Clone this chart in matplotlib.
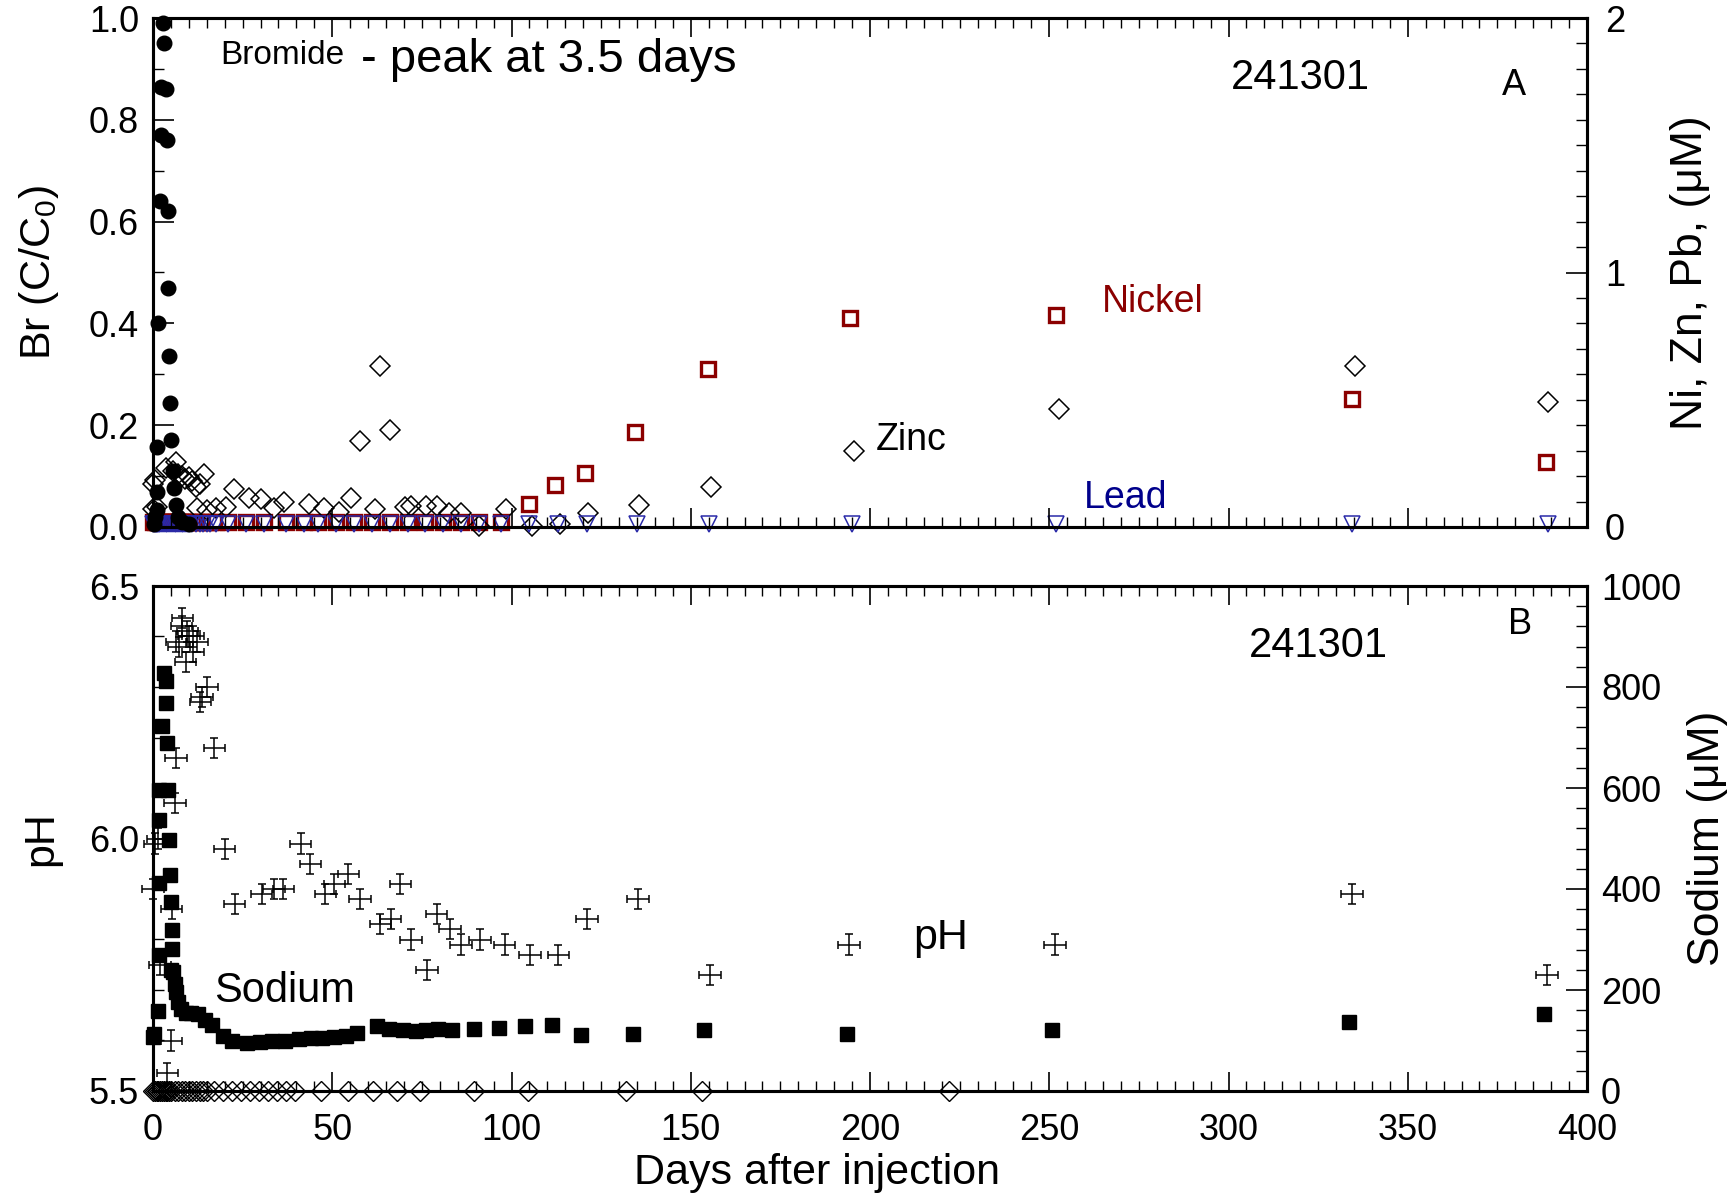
import matplotlib
matplotlib.use("Agg")
import matplotlib.pyplot as plt
from matplotlib.ticker import MultipleLocator, FormatStrFormatter

plt.rcParams['font.family'] = ['Liberation Sans', 'DejaVu Sans']
plt.rcParams['mathtext.fontset'] = 'custom'
plt.rcParams['mathtext.rm'] = 'Liberation Sans'

# ---------------- panel A : bromide (C/C0, left axis) ----------------
br_days = [2.9, 3.0, 2.1, 3.6, 2.1, 3.8, 2.0, 4.3, 4.3, 1.5, 4.5, 4.8, 1.2, 5.0,
           5.5, 1.1, 5.8, 6.4, 1.0, 0.5, 7.0, 8.0, 0.2, 10.0]
br_conc = [0.99, 0.95, 0.865, 0.86, 0.77, 0.76, 0.64, 0.62, 0.47, 0.40, 0.336, 0.243,
           0.158, 0.17, 0.111, 0.069, 0.076, 0.043, 0.033, 0.02, 0.02, 0.01, 0.005, 0.005]

# metals (uM, right axis)
ni_days = [0, 0.5, 1, 1.5, 2, 2.5, 3, 3.5, 4, 4.5, 5, 5.5, 6, 6.5, 7, 7.5, 8, 8.5, 9, 9.5,
           10, 11, 12, 13, 14, 15, 16, 17.5, 21, 26, 31, 37, 42, 46, 51, 56, 61, 66, 71,
           76, 81, 86, 91, 97, 104.8, 112.2, 120.6, 134.5, 154.9, 194.4, 251.9, 334.5, 388.6]
ni_conc = [0.02, 0.02, 0.02, 0.02, 0.02, 0.02, 0.02, 0.02, 0.02, 0.02, 0.02, 0.02, 0.02,
           0.02, 0.02, 0.02, 0.02, 0.02, 0.02, 0.02, 0.02, 0.02, 0.02, 0.02, 0.02, 0.02,
           0.02, 0.02, 0.02, 0.02, 0.02, 0.02, 0.02, 0.02, 0.02, 0.02, 0.02, 0.02, 0.02,
           0.02, 0.02, 0.02, 0.02, 0.02, 0.09, 0.165, 0.212, 0.372, 0.62, 0.82, 0.833,
           0.503, 0.256]

zn_days = [0, 0.1, 1.2, 0.5, 3.5, 6.3, 5.5, 7, 8, 9, 10, 11, 11.9, 12.4, 13, 14.2, 15.2,
           17.5, 20.3, 22.6, 26.8, 30.0, 33.8, 36.5, 43.5, 47.7, 52, 55.3, 57.8, 61.8, 63.4,
           66.2, 70.2, 72.0, 76.2, 79.3, 82.6, 85.9, 91, 98.6, 105.6, 113.5, 121.4, 135.6,
           155.6, 195.5, 252.6, 335.4, 389.2]
zn_conc = [0.07, 0.17, 0.08, 0.185, 0.23, 0.257, 0.22, 0.21, 0.2, 0.19, 0.198, 0.18,
           0.158, 0.073, 0.17, 0.207, 0.067, 0.073, 0.08, 0.149, 0.113, 0.11, 0.073, 0.1,
           0.09, 0.073, 0.06, 0.113, 0.338, 0.07, 0.633, 0.382, 0.077, 0.083, 0.083, 0.083,
           0.054, 0.054, 0.004, 0.07, 0.004, 0.012, 0.054, 0.085, 0.158, 0.30, 0.464,
           0.633, 0.49]

pb_days = [0, 0.25, 0.5, 0.75, 1, 1.25, 1.5, 1.75, 2, 2.5, 3, 3.5, 4, 4.5, 5, 5.5, 6, 6.5,
           7, 7.5, 8, 8.5, 9, 9.5, 10, 11, 12, 13, 14, 15, 16, 17.5, 21, 26, 31, 37, 42,
           46, 51, 56, 61, 66, 71, 76, 81, 86, 91, 97, 105, 113, 121, 135, 155, 195, 252,
           334.5, 389]
pb_conc = [0.01, 0.01, 0.01, 0.01, 0.01, 0.01, 0.01, 0.01, 0.01, 0.01, 0.01, 0.01, 0.01,
           0.01, 0.01, 0.01, 0.01, 0.01, 0.01, 0.01, 0.01, 0.01, 0.01, 0.01, 0.01, 0.01,
           0.01, 0.01, 0.01, 0.01, 0.01, 0.01, 0.01, 0.01, 0.01, 0.01, 0.01, 0.01, 0.01,
           0.01, 0.01, 0.01, 0.01, 0.01, 0.01, 0.01, 0.01, 0.01, 0.01, 0.01, 0.01, 0.01,
           0.01, 0.01, 0.01, 0.01, 0.01]

# ---------------- panel B : pH (left) and sodium (right) ----------------
ph_days = [8.2, 8.0, 9.6, 11.2, 12.3, 10.0, 7.2, 11.2, 9.1, 6.5, 15.0, 13.6, 13.2, 17.1,
           6.4, 6.1, 1.3, 0.5, 20.0, 41.2, 43.9, 54.5, 50.6, 69.0, 36.4, 33.7, 30.3, 48.1,
           57.8, 22.8, 66.3, 63.4, 79.1, 82.9, 72.0, 85.9, 91.2, 98.1, 105.1, 113.1, 121.1,
           135.3, 76.5, 155.4, 0.0, 5.2, 1.9, 5.1, 4.0, 194.1, 251.6, 334.5, 388.9]
ph_vals = [6.437, 6.42, 6.41, 6.40, 6.39, 6.40, 6.38, 6.37, 6.35, 6.39, 6.30, 6.28, 6.27,
           6.18, 6.16, 6.07, 6.00, 5.99, 5.98, 5.99, 5.95, 5.93, 5.91, 5.91, 5.90, 5.90,
           5.89, 5.89, 5.88, 5.87, 5.84, 5.83, 5.85, 5.82, 5.80, 5.79, 5.80, 5.79, 5.77,
           5.77, 5.84, 5.88, 5.74, 5.73, 5.90, 5.86, 5.75, 5.60, 5.535, 5.79, 5.79, 5.89,
           5.73]
ph_xerr = 3.0
ph_yerr = 0.02

na_days = [0, 0.3, 1.4, 1.6, 1.6, 1.8, 1.6, 2.5, 3.0, 3.5, 3.7, 4.0, 4.3, 4.5, 4.8, 5.0,
           5.4, 5.4, 5.7, 5.1, 6.1, 6.5, 7.0, 7.9, 9.3, 10.7, 12.6, 14.5, 16.4, 19.6, 22.0,
           26.2, 29.9, 33.2, 36.9, 40.7, 44.0, 47.2, 50.5, 53.7, 57.0, 62.6, 65.9, 69.6,
           73.4, 76.2, 79.4, 83.5, 89.6, 96.4, 103.9, 111.3, 119.3, 133.8, 153.6, 193.5,
           250.7, 333.5, 388.0]
na_conc = [106, 113, 159, 269, 411, 537, 596, 723, 827, 811, 768, 690, 596, 498, 428, 375,
           319, 281, 236, 240, 212, 197, 176, 162, 155, 154, 152, 141, 130, 109, 99, 95, 97,
           99, 100, 102, 104, 104, 106, 109, 114, 128, 123, 120, 118, 120, 122, 121, 122,
           124, 128, 131, 110, 112, 120, 112, 120, 136, 152]

base_days = [0, 0.5, 1, 1.5, 2, 2.5, 3, 3.5, 4, 4.5, 5, 6, 7, 8, 9, 10, 11, 12, 13, 14, 15,
             17, 19.5, 22, 24.5, 27, 29.5, 32, 34.5, 37, 39.5, 47, 54.5, 61.5, 68, 74.5,
             89.5, 104.5, 132, 153, 222]
base_vals = [0, 0, 0, 0, 0, 0, 0, 0, 0, 0, 0, 0, 0, 0, 0, 0, 0, 0, 0, 0, 0, 0, 0, 0, 0, 0,
             0, 0, 0, 0, 0, 0, 0, 0, 0, 0, 0, 0, 0, 0, 0]

ni_color = '#8b0000'
pb_color = '#2a2aa8'

W, H = 1735, 1195
fig = plt.figure(figsize=(W / 100, H / 100), dpi=100)

x0, x1 = 153, 1587
TICK_FS = 26
LABEL_FS = 31


def box(top, bottom):
    return [x0 / W, 1 - bottom / H, (x1 - x0) / W, (bottom - top) / H]


def style_x(ax, labels):
    ax.set_xlim(0, 400)
    ax.xaxis.set_major_locator(MultipleLocator(50))
    ax.xaxis.set_minor_locator(MultipleLocator(5))
    ax.tick_params(axis='x', which='both', direction='in', top=True, bottom=True,
                   labelbottom=labels, labelsize=TICK_FS, pad=16)
    ax.tick_params(axis='x', which='major', length=14, width=1.2)
    ax.tick_params(axis='x', which='minor', length=7, width=1.0)


def style_y(ax, side):
    ax.tick_params(axis='y', which='both', direction='in', labelsize=TICK_FS, pad=10,
                   left=(side == 'left'), right=(side == 'right'),
                   labelleft=(side == 'left'), labelright=(side == 'right'))
    ax.tick_params(axis='y', which='major', length=15, width=1.2)
    ax.tick_params(axis='y', which='minor', length=8, width=1.0)


# ---------------- panel A ----------------
axA = fig.add_axes(box(18, 527))
axA2 = axA.twinx()
axA.set_zorder(axA2.get_zorder() + 1)
axA.patch.set_visible(False)

axA2.plot(ni_days, ni_conc, 's', ms=10, mfc='white', mec=ni_color, mew=2.4, clip_on=False)
axA2.plot(zn_days, zn_conc, 'D', ms=10, mfc='none', mec='black', mew=1.1, clip_on=False)
axA2.plot(pb_days, pb_conc, 'v', ms=12, mfc='none', mec=pb_color, mew=1.1, clip_on=False)
axA.plot(br_days, br_conc, 'o', ms=10.5, color='black', clip_on=False)

axA.set_ylim(0, 1)
axA2.set_ylim(0, 2)
axA.yaxis.set_major_locator(MultipleLocator(0.2))
axA.yaxis.set_minor_locator(MultipleLocator(0.1))
axA.yaxis.set_major_formatter(FormatStrFormatter('%.1f'))
axA2.yaxis.set_major_locator(MultipleLocator(1))
axA2.yaxis.set_minor_locator(MultipleLocator(0.1))
style_x(axA, False)
style_y(axA, 'left')
style_y(axA2, 'right')
axA2.tick_params(axis='y', which='major', pad=13)

axA.set_ylabel(r'Br (C/C$_\mathregular{0}$)', fontsize=LABEL_FS)
axA.yaxis.set_label_coords(-0.064, 0.5)
axA2.set_ylabel('Ni, Zn, Pb, (μM)', fontsize=32)
axA2.yaxis.set_label_coords(1.058, 0.5)

axA.text(0.047, 0.927, 'Bromide', transform=axA.transAxes, fontsize=24, va='center')
axA.text(0.145, 0.918, '- peak at 3.5 days', transform=axA.transAxes, fontsize=34,
         va='center')
axA.text(0.80, 0.883, '241301', transform=axA.transAxes, fontsize=30, ha='center',
         va='center')
axA.text(0.949, 0.868, 'A', transform=axA.transAxes, fontsize=26, ha='center', va='center')
axA.text(0.662, 0.442, 'Nickel', transform=axA.transAxes, fontsize=27, color=ni_color,
         va='center')
axA.text(0.504, 0.171, 'Zinc', transform=axA.transAxes, fontsize=27, va='center')
axA.text(0.649, 0.057, 'Lead', transform=axA.transAxes, fontsize=27, color='#00008b',
         va='center')

# ---------------- panel B ----------------
axB = fig.add_axes(box(586, 1091))
axB2 = axB.twinx()

axB2.plot(na_days, na_conc, 's', ms=10, color='black', clip_on=False)
axB2.plot(base_days, base_vals, 'D', ms=10, mfc='none', mec='black', mew=1.0,
          clip_on=False)
axB.errorbar(ph_days, ph_vals, xerr=ph_xerr, yerr=ph_yerr, fmt='none', ecolor='black',
             elinewidth=1.1, capsize=3, capthick=1.1, clip_on=False)

axB.set_ylim(5.5, 6.5)
axB2.set_ylim(0, 1000)
axB.yaxis.set_major_locator(MultipleLocator(0.5))
axB.yaxis.set_minor_locator(MultipleLocator(0.1))
axB.yaxis.set_major_formatter(FormatStrFormatter('%.1f'))
axB2.yaxis.set_major_locator(MultipleLocator(200))
axB2.yaxis.set_minor_locator(MultipleLocator(40))
style_x(axB, True)
style_y(axB, 'left')
style_y(axB2, 'right')

axB.set_ylabel('pH', fontsize=LABEL_FS)
axB.yaxis.set_label_coords(-0.064, 0.5)
axB2.set_ylabel('Sodium (μM)', fontsize=32)
axB2.yaxis.set_label_coords(1.070, 0.5)

axB.text(0.813, 0.881, '241301', transform=axB.transAxes, fontsize=30, ha='center',
         va='center')
axB.text(0.953, 0.923, 'B', transform=axB.transAxes, fontsize=26, ha='center', va='center')
axB.text(0.549, 0.303, 'pH', transform=axB.transAxes, fontsize=31, ha='center',
         va='center')
axB.text(0.092, 0.198, 'Sodium', transform=axB.transAxes, fontsize=30, ha='center',
         va='center')

fig.text(817 / W, 1 - 1173 / H, 'Days after injection', fontsize=LABEL_FS, ha='center',
         va='center')

for ax in (axA, axA2, axB, axB2):
    for s in ax.spines.values():
        s.set_linewidth(2.2)

fig.savefig('out.png', dpi=100)
